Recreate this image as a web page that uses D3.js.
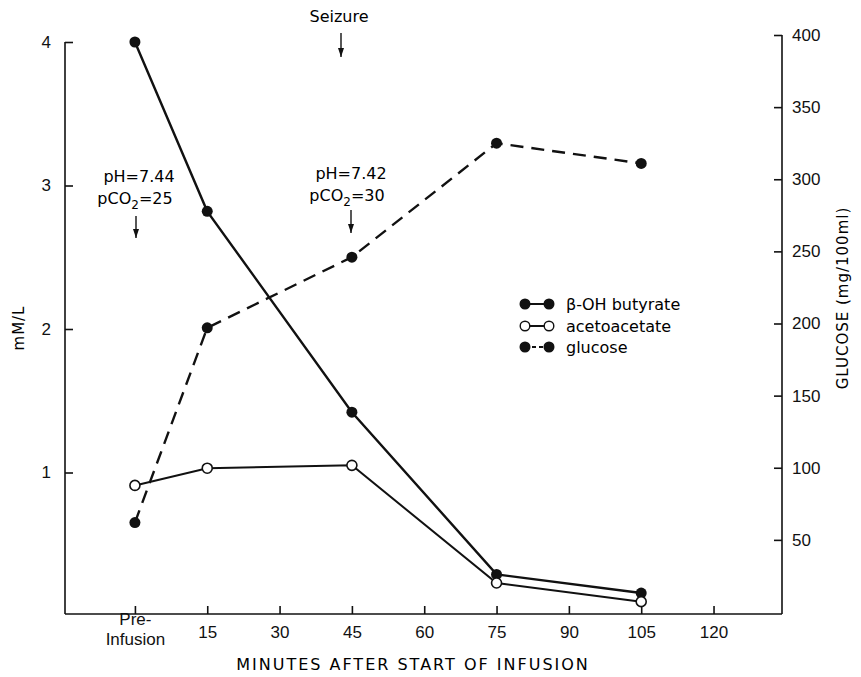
<!DOCTYPE html>
<html>
<head>
<meta charset="utf-8">
<script src="https://cdn.jsdelivr.net/npm/d3@7"></script>
<style>
  body { margin: 0; background: #fff; }
  svg { font-family: "DejaVu Sans", "Noto Sans", sans-serif; }
  .axis path, .axis line { stroke: #111; stroke-width: 1.6; }
  .axis text { fill: #111; font-size: 17px; }
</style>
</head>
<body>
<div id="chart"></div>
<script>
// Ketone bodies and glucose during infusion

// data
var minutes = [0, 15, 45, 75, 105];
var butyrate = [4.0, 2.82, 1.42, 0.29, 0.16];
var acetoacetate = [0.91, 1.03, 1.05, 0.23, 0.10];
var glucose = [62, 197, 246, 325, 311];

var xTicks = [0, 15, 30, 45, 60, 75, 90, 105, 120];
var leftTicks = [1, 2, 3, 4];
var rightTicks = [50, 100, 150, 200, 250, 300, 350, 400];

var svgWidth = 861;
var svgHeight = 677;

var svg = d3.select("#chart")
  .append("svg")
  .attr("width", svgWidth)
  .attr("height", svgHeight);

// scales
var xLeft = 65, xRight = 782, yBottom = 614;

var x = d3.scaleLinear()
  .domain([-14.5, 134.2])
  .range([xLeft, xRight]);

var yL = d3.scaleLinear()
  .domain([0, 4])
  .range([616, 42]);

var yR = d3.scaleLinear()
  .domain([0, 400])
  .range([612, 35]);

// x axis, ticks pointing up into the plot
var xAxis = svg.append("g")
  .attr("class", "axis")
  .attr("transform", "translate(0," + yBottom + ")")
  .call(d3.axisBottom(x)
    .tickValues(xTicks)
    .tickSizeInner(-8)
    .tickSizeOuter(0)
    .tickPadding(12)
    .tickFormat(d => d === 0 ? "" : d));

xAxis.select(".domain").attr("d", "M" + xLeft + ",0H" + xRight);

// Pre-Infusion label on two lines
var pre = xAxis.selectAll(".tick").filter(d => d === 0).select("text");
pre.append("tspan").attr("x", 0).attr("dy", "-0.05em").text("Pre-");
pre.append("tspan").attr("x", 0).attr("dy", "1.15em").text("Infusion");

// left axis
var leftAxis = svg.append("g")
  .attr("class", "axis")
  .attr("transform", "translate(" + xLeft + ",0)")
  .call(d3.axisLeft(yL)
    .tickValues(leftTicks)
    .tickSizeInner(-8)
    .tickSizeOuter(0)
    .tickPadding(14)
    .tickFormat(d3.format("d")));

leftAxis.select(".domain").attr("d", "M0," + yL(4) + "V" + yBottom);

// right axis
var rightAxis = svg.append("g")
  .attr("class", "axis")
  .attr("transform", "translate(" + xRight + ",0)")
  .call(d3.axisRight(yR)
    .tickValues(rightTicks)
    .tickSizeInner(-8)
    .tickSizeOuter(0)
    .tickPadding(10)
    .tickFormat(d3.format("d")));

rightAxis.select(".domain").attr("d", "M0," + yR(400) + "V" + yBottom);

// axis titles
svg.append("text")
  .attr("x", 413)
  .attr("y", 670)
  .attr("text-anchor", "middle")
  .attr("font-size", 16)
  .attr("letter-spacing", 2)
  .text("MINUTES AFTER START OF INFUSION");

svg.append("text")
  .attr("transform", "translate(24,328) rotate(-90)")
  .attr("text-anchor", "middle")
  .attr("font-size", 15)
  .attr("letter-spacing", 1)
  .text("mM/L");

svg.append("text")
  .attr("transform", "translate(848,298) rotate(-90)")
  .attr("text-anchor", "middle")
  .attr("font-size", 15)
  .attr("letter-spacing", 1)
  .text("GLUCOSE  (mg/100ml)");

// lines
var lineL = d3.line()
  .x((d, i) => x(minutes[i]))
  .y(d => yL(d));

var lineR = d3.line()
  .x((d, i) => x(minutes[i]))
  .y(d => yR(d));

svg.append("path")
  .datum(glucose)
  .attr("fill", "none")
  .attr("stroke", "#111")
  .attr("stroke-width", 2.4)
  .attr("stroke-dasharray", "13,8")
  .attr("d", lineR);

svg.append("path")
  .datum(butyrate)
  .attr("fill", "none")
  .attr("stroke", "#111")
  .attr("stroke-width", 2.4)
  .attr("d", lineL);

svg.append("path")
  .datum(acetoacetate)
  .attr("fill", "none")
  .attr("stroke", "#111")
  .attr("stroke-width", 2)
  .attr("d", lineL);

// points
svg.selectAll(".glu")
  .data(glucose)
  .enter()
  .append("circle")
  .attr("class", "glu")
  .attr("cx", (d, i) => x(minutes[i]))
  .attr("cy", d => yR(d))
  .attr("r", 5.5)
  .attr("fill", "#111");

svg.selectAll(".but")
  .data(butyrate)
  .enter()
  .append("circle")
  .attr("class", "but")
  .attr("cx", (d, i) => x(minutes[i]))
  .attr("cy", d => yL(d))
  .attr("r", 5.5)
  .attr("fill", "#111");

svg.selectAll(".ace")
  .data(acetoacetate)
  .enter()
  .append("circle")
  .attr("class", "ace")
  .attr("cx", (d, i) => x(minutes[i]))
  .attr("cy", d => yL(d))
  .attr("r", 5)
  .attr("fill", "#fff")
  .attr("stroke", "#111")
  .attr("stroke-width", 1.6);

// arrows: thin shaft with a small filled head
function arrow(cx, y1, y2) {
  svg.append("line")
    .attr("x1", cx).attr("x2", cx)
    .attr("y1", y1).attr("y2", y2)
    .attr("stroke", "#111")
    .attr("stroke-width", 1.4);
  svg.append("path")
    .attr("d", "M" + (cx - 3) + "," + (y2 - 9) + "L" + cx + "," + y2 + "L" + (cx + 3) + "," + (y2 - 9) + "Z")
    .attr("fill", "#111");
}

// annotations
svg.append("text")
  .attr("x", 339).attr("y", 22)
  .attr("text-anchor", "middle")
  .attr("font-size", 16)
  .text("Seizure");
arrow(341, 33, 57);

function blood(cx, cy, ph, pco2) {
  svg.append("text")
    .attr("x", cx).attr("y", cy)
    .attr("text-anchor", "middle")
    .attr("font-size", 16)
    .text("pH=" + ph);
  var t = svg.append("text")
    .attr("x", cx - 4).attr("y", cy + 22)
    .attr("text-anchor", "middle")
    .attr("font-size", 16);
  t.append("tspan").text("pCO");
  t.append("tspan").attr("font-size", 12).attr("dy", 5).text("2");
  t.append("tspan").attr("dy", -5).text("=" + pco2);
}

blood(139, 182, "7.44", "25");
arrow(136, 216, 238);
blood(351, 179, "7.42", "30");
arrow(351, 210, 233);

// legend
var legendNames = ["\u03B2-OH butyrate", "acetoacetate", "glucose"];
var legendY = [304, 326, 347];
var legendFill = ["#111", "#fff", "#111"];
var legendDash = ["none", "none", "4,3"];

legendNames.forEach(function(name, i) {
  svg.append("line")
    .attr("x1", 525).attr("x2", 549)
    .attr("y1", legendY[i]).attr("y2", legendY[i])
    .attr("stroke", "#111")
    .attr("stroke-width", 2)
    .attr("stroke-dasharray", legendDash[i]);
  [525, 549].forEach(function(cx) {
    svg.append("circle")
      .attr("cx", cx).attr("cy", legendY[i])
      .attr("r", 4.8)
      .attr("fill", legendFill[i])
      .attr("stroke", "#111")
      .attr("stroke-width", 1.4);
  });
  svg.append("text")
    .attr("x", 566).attr("y", legendY[i] + 6)
    .attr("font-size", 16)
    .text(name);
});
</script>
</body>
</html>
